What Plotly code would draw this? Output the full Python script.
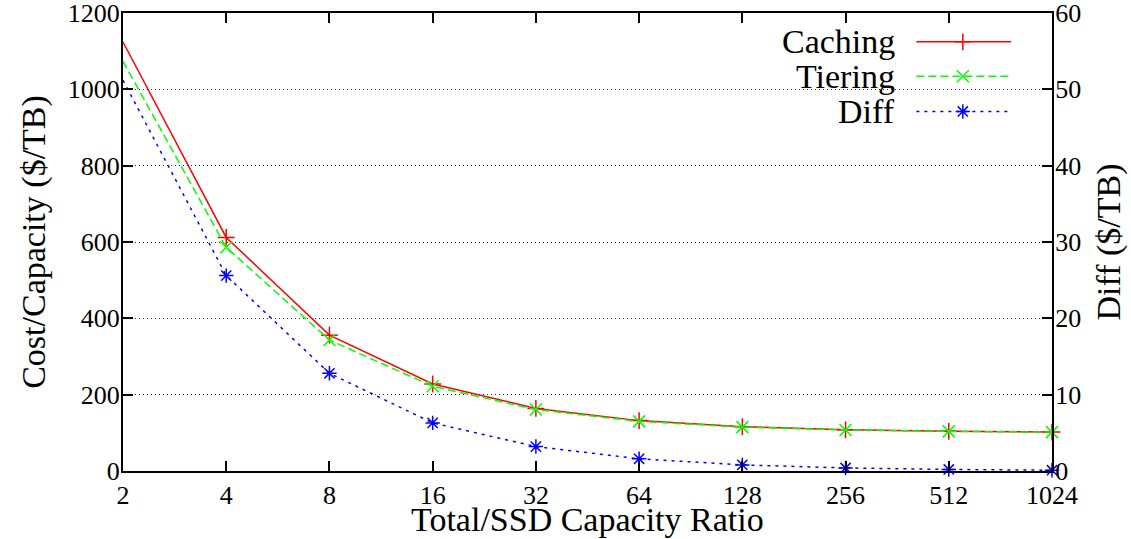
import plotly.graph_objects as go

ratios = [2, 4, 8, 16, 32, 64, 128, 256, 512, 1024]
tick_labels = ["2", "4", "8", "16", "32", "64", "128", "256", "512", "1024"]
caching = [1124, 612, 356, 228, 164, 132, 116, 108, 104, 102]
tiering = [1073, 586, 343, 222, 161, 130, 115, 107.6, 103.8, 101.9]
diff = [51.2, 25.6, 12.8, 6.3, 3.2, 1.6, 0.8, 0.4, 0.2, 0.1]

names = ["Caching", "Tiering", "Diff"]
colors = ["#ff0000", "#00ff00", "#0000ff"]
dashes = ["solid", "8px,4px", "3px,5px"]
symbols = ["cross-thin-open", "x-thin-open", "asterisk-open"]

FONT = "Liberation Serif, Times New Roman, serif"

fig = go.Figure()
series = [(caching, "y"), (tiering, "y"), (diff, "y2")]
for (vals, ax), name, c, d, s in zip(series, names, colors, dashes, symbols):
    fig.add_trace(go.Scatter(
        x=ratios, y=vals, name=name, mode="lines+markers", yaxis=ax,
        line=dict(color=c, width=1.5, dash=d),
        marker=dict(symbol=s, size=12, color=c, line=dict(color=c, width=1.5)),
        showlegend=False, cliponaxis=False,
    ))

# custom gnuplot-style key: text right-aligned, sample on its right
key_y = [0.937, 0.862, 0.785]
for name, c, d, s, ky in zip(names, colors, dashes, symbols, key_y):
    fig.add_trace(go.Scatter(
        x=[0.854, 0.904, 0.956], y=[ky, ky, ky], xaxis="x3", yaxis="y3",
        mode="lines", line=dict(color=c, width=1.5, dash=d),
        showlegend=False, hoverinfo="skip",
    ))
    fig.add_trace(go.Scatter(
        x=[0.904], y=[ky], xaxis="x3", yaxis="y3", mode="markers",
        marker=dict(symbol=s, size=12, color=c, line=dict(color=c, width=1.5)),
        showlegend=False, hoverinfo="skip",
    ))
    fig.add_annotation(
        text=name, xref="paper", yref="paper", x=0.833, y=ky,
        xanchor="right", yanchor="middle", showarrow=False,
        font=dict(family=FONT, size=34, color="black"),
    )

fig.add_shape(type="rect", xref="paper", yref="paper",
              x0=0.673, x1=0.978, y0=0.745, y1=0.985,
              fillcolor="white", line=dict(width=0), layer="between")

tickfont = dict(family=FONT, size=26, color="black")
titlefont = dict(family=FONT, size=34, color="black")

# x-axis title placed as annotation to sit as close to the tick labels as in the original
fig.add_annotation(
    text="Total/SSD Capacity Ratio", xref="paper", yref="paper", x=0.5, y=-0.106,
    xanchor="center", yanchor="middle", showarrow=False, font=titlefont,
)

fig.update_layout(
    width=1131, height=539,
    margin=dict(l=123, r=79, t=13, b=68, autoexpand=False),
    paper_bgcolor="white", plot_bgcolor="white",
    font=dict(family=FONT, color="black"),
    xaxis=dict(
        type="log", range=[0.30103, 3.0103], automargin=False,
        tickvals=ratios, ticktext=tick_labels, tickfont=tickfont,
        ticks="inside", ticklen=10, tickwidth=2, tickcolor="black",
        ticklabeloverflow="allow",
        showline=True, linecolor="black", linewidth=2, mirror="ticks",
        showgrid=False, zeroline=False,
    ),
    yaxis=dict(
        range=[0, 1200], tickvals=[0, 200, 400, 600, 800, 1000, 1200], automargin=False,
        tickfont=tickfont, ticks="inside", ticklen=10, tickwidth=2, tickcolor="black",
        ticklabeloverflow="allow", ticklabelstandoff=-4,
        showline=True, linecolor="black", linewidth=2,
        showgrid=True, gridcolor="#333333", gridwidth=1, griddash="1px,3px",
        zeroline=False,
        title=dict(text="Cost/Capacity ($/TB)", font=titlefont, standoff=12),
    ),
    yaxis2=dict(
        overlaying="y", side="right", range=[0, 60], automargin=False,
        tickvals=[0, 10, 20, 30, 40, 50, 60],
        tickfont=tickfont, ticks="inside", ticklen=10, tickwidth=2, tickcolor="black",
        ticklabeloverflow="allow", ticklabelstandoff=-4,
        showline=True, linecolor="black", linewidth=2,
        showgrid=False, zeroline=False,
        title=dict(text="Diff ($/TB)", font=titlefont, standoff=16),
    ),
    xaxis3=dict(overlaying="x", range=[0, 1], visible=False, fixedrange=True),
    yaxis3=dict(overlaying="y", range=[0, 1], visible=False, fixedrange=True, anchor="x3"),
)

fig.write_html("out.html", config={"displayModeBar": False},
               post_script="document.body.style.margin='0';document.body.style.overflow='hidden';")
